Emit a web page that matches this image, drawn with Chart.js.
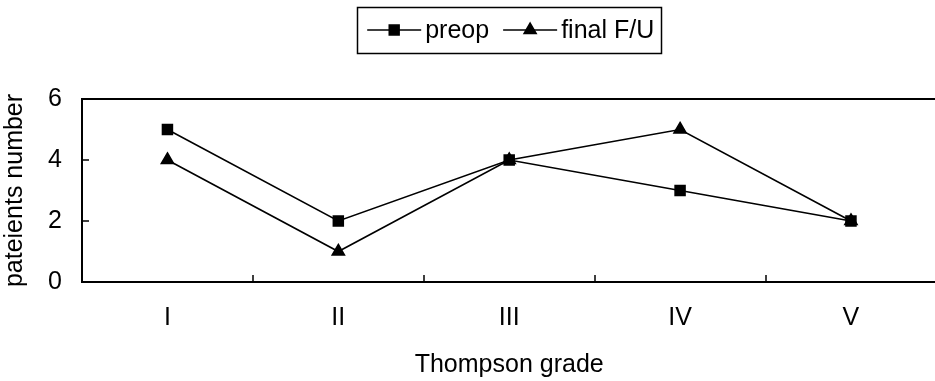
<!DOCTYPE html>
<html>
<head>
<meta charset="utf-8">
<script src="https://cdn.jsdelivr.net/npm/chart.js@4/dist/chart.umd.min.js"></script>
<style>
  html, body { margin: 0; padding: 0; background: #fff; overflow: hidden; }
  #wrap { width: 945px; height: 381px; }
</style>
</head>
<body>
<div id="wrap"><canvas id="chart"></canvas></div>
<script>
// values
const grades = ['I', 'II', 'III', 'IV', 'V'];
const preop = [5, 2, 4, 3, 2];
const finalFU = [4, 1, 4, 5, 2];
const yTicks = [0, 2, 4, 6];

const FONT = '"Liberation Sans", Arial, sans-serif';
const FS = 25;

// frame, inner tick marks and the boxed legend, drawn the old Excel way
const excelBits = {
    id: 'excelBits',
    afterDraw(chart) {
        const ctx = chart.ctx;
        const a = chart.chartArea;
        const x = chart.scales.x;
        const y = chart.scales.y;
        ctx.save();
        ctx.strokeStyle = '#000';
        ctx.lineWidth = 2;
        ctx.beginPath();
        ctx.moveTo(a.right + 5, a.top);
        ctx.lineTo(a.left, a.top);
        ctx.lineTo(a.left, a.bottom);
        ctx.lineTo(a.right + 5, a.bottom);
        ctx.stroke();

        ctx.lineWidth = 1.5;
        ctx.beginPath();
        yTicks.forEach(v => {
            const py = Math.round(y.getPixelForValue(v));
            ctx.moveTo(a.left, py);
            ctx.lineTo(a.left + 7, py);
        });
        const step = x.getPixelForValue(1) - x.getPixelForValue(0);
        for (let i = 0; i < grades.length - 1; i++) {
            const px = Math.round(x.getPixelForValue(i) + step / 2);
            ctx.moveTo(px, a.bottom);
            ctx.lineTo(px, a.bottom - 7);
        }
        ctx.stroke();

        // legend
        ctx.font = FS + 'px ' + FONT;
        ctx.textBaseline = 'middle';
        const seg = 54, gap = 4, padL = 10, padR = 7, between = 14;
        const items = chart.data.datasets.map(d => ({ d, w: seg + gap + ctx.measureText(d.label).width }));
        const total = items.reduce((s, it) => s + it.w, 0) + between * (items.length - 1) + padL + padR;
        const cx = (a.left + a.right) / 2;
        const top = 7, h = 46, midY = top + h / 2;
        let lx = cx - total / 2;
        ctx.lineWidth = 1.5;
        ctx.strokeRect(Math.round(lx) + 0.5, top + 0.5, Math.round(total), h);
        lx += padL;
        items.forEach(it => {
            ctx.lineWidth = 1.5;
            ctx.beginPath();
            ctx.moveTo(lx, midY);
            ctx.lineTo(lx + seg, midY);
            ctx.stroke();
            ctx.fillStyle = '#000';
            Chart.helpers.drawPoint(ctx, {
                pointStyle: it.d.pointStyle,
                radius: it.d.pointRadius,
                borderWidth: 1
            }, lx + seg / 2, midY);
            ctx.fillStyle = '#000';
            ctx.textAlign = 'left';
            ctx.fillText(it.d.label, lx + seg + gap, midY + 1);
            lx += it.w + between;
        });
        ctx.restore();
    }
};

new Chart(document.getElementById('chart'), {
    type: 'line',
    data: {
        labels: grades,
        datasets: [
            {
                label: 'preop',
                data: preop,
                borderColor: '#000',
                backgroundColor: '#000',
                borderWidth: 1.6,
                pointStyle: 'rect',
                pointRadius: 7,
                pointHoverRadius: 7,
                tension: 0
            },
            {
                label: 'final F/U',
                data: finalFU,
                borderColor: '#000',
                backgroundColor: '#000',
                borderWidth: 1.6,
                pointStyle: 'triangle',
                pointRadius: 7,
                pointHoverRadius: 7,
                tension: 0
            }
        ]
    },
    options: {
        responsive: true,
        maintainAspectRatio: false,
        animation: false,
        layout: { padding: { top: 99, right: 2, left: 0, bottom: 0 } },
        plugins: {
            legend: { display: false },
            tooltip: { enabled: false }
        },
        scales: {
            x: {
                offset: true,
                grid: { display: false, drawTicks: false },
                border: { display: false },
                ticks: { color: '#000', font: { family: FONT, size: FS }, padding: 21 },
                title: {
                    display: true,
                    text: 'Thompson grade',
                    color: '#000',
                    font: { family: FONT, size: FS },
                    padding: { top: 0, bottom: 1 }
                },
                afterFit: s => { s.height = 99; }
            },
            y: {
                min: 0,
                max: 6,
                afterBuildTicks: s => { s.ticks = yTicks.map(v => ({ value: v })); },
                grid: { display: false, drawTicks: false },
                border: { display: false },
                ticks: { color: '#000', font: { family: FONT, size: FS }, padding: 20 },
                title: {
                    display: true,
                    text: 'pateients number',
                    color: '#000',
                    font: { family: FONT, size: FS },
                    padding: { top: 0, bottom: 7 }
                },
                afterFit: s => { s.width = 82; }
            }
        }
    },
    plugins: [excelBits]
});
</script>
</body>
</html>
